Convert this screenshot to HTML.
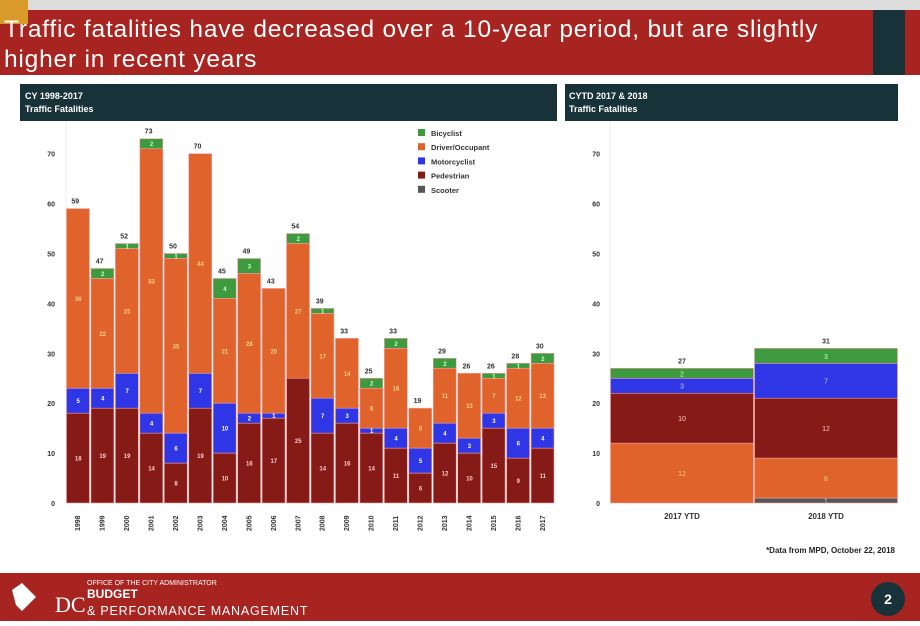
<!DOCTYPE html>
<html><head><meta charset="utf-8"><style>
body{margin:0;width:920px;height:621px;overflow:hidden;background:#fff;font-family:"Liberation Sans",sans-serif}
</style></head><body>
<svg id="s" width="920" height="621" xmlns="http://www.w3.org/2000/svg">
<rect x="0" y="0" width="920" height="10" fill="#dcdcdc"/>
<rect x="0" y="10" width="920" height="65" fill="#a82421"/>
<rect x="873" y="10" width="32" height="65" fill="#173238"/>
<rect x="0" y="0" width="28" height="24" fill="#d99a2b"/>
<text x="4" y="37" fill="#fff" font-size="24.5" letter-spacing="0.8">Traffic fatalities have decreased over a 10-year period, but are slightly</text>
<text x="4" y="67" fill="#fff" font-size="24.5" letter-spacing="0.8">higher in recent years</text>
<rect x="20" y="84" width="537" height="37" fill="#173238"/>
<text x="25" y="99" fill="#fff" font-size="9" font-weight="bold">CY 1998-2017</text>
<text x="25" y="112" fill="#fff" font-size="9" font-weight="bold">Traffic Fatalities</text>
<rect x="565" y="84" width="333" height="37" fill="#173238"/>
<text x="569" y="99" fill="#fff" font-size="9" font-weight="bold">CYTD 2017 &amp; 2018</text>
<text x="569" y="112" fill="#fff" font-size="9" font-weight="bold">Traffic Fatalities</text>
<line x1="66" y1="121" x2="66" y2="505" stroke="#eee"/>
<line x1="610" y1="121" x2="610" y2="505" stroke="#eee"/>
<g id="left"></g><g id="right"></g><g id="legend"></g>
<text x="895" y="553" text-anchor="end" font-size="8" font-weight="bold" fill="#222">*Data from MPD, October 22, 2018</text>
<rect x="0" y="573" width="920" height="48" fill="#a82421"/>
<path d="M12 590 L22 583 L36 597 L22 611 L16 605 Z" fill="#fff"/>
<text x="55" y="612" fill="#fff" font-size="22" font-family="Liberation Serif">DC</text>
<text x="87" y="585" fill="#fff" font-size="7">OFFICE OF THE CITY ADMINISTRATOR</text>
<text x="87" y="598" fill="#fff" font-size="12" font-weight="bold">BUDGET</text>
<text x="87" y="615" fill="#fff" font-size="12.5" letter-spacing="0.8">&amp; PERFORMANCE MANAGEMENT</text>
<circle cx="888" cy="599" r="17" fill="#173238"/>
<text x="888" y="604" text-anchor="middle" fill="#fff" font-size="14" font-weight="bold">2</text>
</svg>
<script>
const years=["1998","1999","2000","2001","2002","2003","2004","2005","2006","2007","2008","2009","2010","2011","2012","2013","2014","2015","2016","2017"];
const pedestrian=[18,19,19,14,8,19,10,16,17,25,14,16,14,11,6,12,10,15,9,11];
const motorcyclist=[5,4,7,4,6,7,10,2,1,0,7,3,1,4,5,4,3,3,6,4];
const driver=[36,22,25,53,35,44,21,28,25,27,17,14,8,16,8,11,13,7,12,13];
const bicyclist=[0,2,1,2,1,0,4,3,0,2,1,0,2,2,0,2,0,1,1,2];
const totals=[59,47,52,73,50,70,45,49,43,54,39,33,25,33,19,29,26,26,28,30];
const ytdCats=["2017 YTD","2018 YTD"];
const ytdScooter=[0,1];
const ytdDriver=[12,8];
const ytdPed=[10,12];
const ytdMoto=[3,7];
const ytdBike=[2,3];
const ytdTotals=[27,31];
const yTicks=[0,10,20,30,40,50,60,70];
const C={ped:"#861a16",moto:"#2f36e6",drv:"#e0632c",bike:"#3e9a3e",scoot:"#555"};
const NS="http://www.w3.org/2000/svg";
const y0=503,pxu=4.99;
const yS=v=>y0-v*pxu;
function mk(p,tag,a){const e=document.createElementNS(NS,tag);for(const k in a)e.setAttribute(k,a[k]);p.appendChild(e);return e;}
function axis(g,x,label){
 yTicks.forEach(t=>{const e=mk(g,"text",{x:x,y:yS(t)+3,"text-anchor":"end","font-size":"7","font-weight":"bold",fill:"#333"});e.textContent=t;
 
 });
}
const L=document.getElementById("left");
axis(L,55,"left");
const lx0=66,bw=24.45;
years.forEach((yr,i)=>{
 const x=lx0+i*bw;let base=0;
 [[pedestrian[i],C.ped,"pedestrian","#fcc"],[motorcyclist[i],C.moto,"motorcyclist","#fff"],[driver[i],C.drv,"driver","#ffd08a"],[bicyclist[i],C.bike,"bicyclist","#cfc"]].forEach(([v,c,n,tc])=>{
  if(v<=0)return;
  const r=mk(L,"rect",{x:x+0.5,y:yS(base+v),width:bw-1.5,height:v*pxu,fill:c,stroke:"#f4a0a0","stroke-width":"0.6"});
  
  
  const t=mk(L,"text",{x:x+bw/2,y:yS(base+v/2)+2.5,"text-anchor":"middle","font-size":"6","font-weight":"bold",fill:tc});
  t.textContent=v;
  
  
  base+=v;
 });
 const tt=mk(L,"text",{x:x+bw/2-3,y:yS(totals[i])-5,"text-anchor":"middle","font-size":"7","font-weight":"bold",fill:"#333"});
 tt.textContent=totals[i];
 
 
 const xl=mk(L,"text",{x:0,y:0,"font-size":"7","font-weight":"bold",fill:"#333",transform:`translate(${x+bw/2+2},${y0+28}) rotate(-90)`});
 xl.textContent=yr;
 
 
});
const R=document.getElementById("right");
axis(R,600,"right");
const rx0=610,rbw=144;
ytdCats.forEach((cat,i)=>{
 const x=rx0+i*rbw;let base=0;
 [[ytdScooter[i],C.scoot,"scooter","#ccc"],[ytdDriver[i],C.drv,"driver","#ffd08a"],[ytdPed[i],C.ped,"pedestrian","#fcc"],[ytdMoto[i],C.moto,"motorcyclist","#ccf"],[ytdBike[i],C.bike,"bicyclist","#cfc"]].forEach(([v,c,n,tc])=>{
  if(v<=0)return;
  const r=mk(R,"rect",{x:x+0.5,y:yS(base+v),width:rbw-1,height:v*pxu,fill:c,stroke:"#f4a0a0","stroke-width":"0.6"});
  
  
  const t=mk(R,"text",{x:x+rbw/2,y:yS(base+v/2)+3,"text-anchor":"middle","font-size":"7",fill:tc});
  t.textContent=v;
  
  
  base+=v;
 });
 const tt=mk(R,"text",{x:x+rbw/2,y:yS(ytdTotals[i])-5,"text-anchor":"middle","font-size":"7","font-weight":"bold",fill:"#333"});
 tt.textContent=ytdTotals[i];
 
 
 const xl=mk(R,"text",{x:x+rbw/2,y:y0+16,"text-anchor":"middle","font-size":"8","font-weight":"bold",fill:"#333"});
 xl.textContent=cat;
 
 
});
const G=document.getElementById("legend");
[["Bicyclist",C.bike],["Driver/Occupant",C.drv],["Motorcyclist",C.moto],["Pedestrian",C.ped],["Scooter",C.scoot]].forEach(([n,c],i)=>{
 const y=129+i*14.2;
 const r=mk(G,"rect",{x:418,y:y,width:7,height:7,fill:c});
 
 
 const t=mk(G,"text",{x:431,y:y+7,"font-size":"7.5","font-weight":"bold",fill:"#333"});
 t.textContent=n;
 
 
});
</script>
</body></html>
